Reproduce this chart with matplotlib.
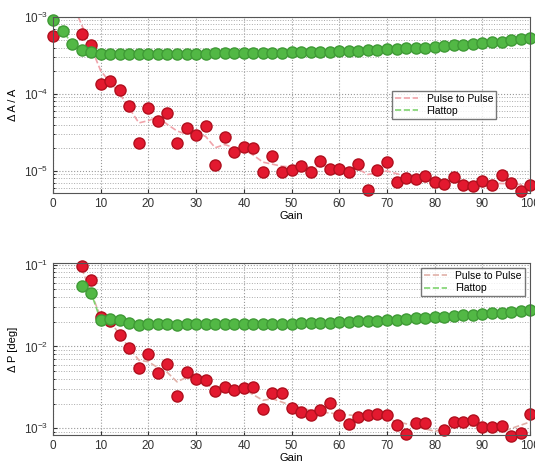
import numpy as np
import matplotlib.pyplot as plt
from matplotlib.ticker import LogLocator, NullFormatter

plt.rcParams['font.family'] = ['Liberation Sans', 'DejaVu Sans']

gain = np.arange(0, 101, 2)

# amplitude stability (top panel)
amp_p2p = [5.7e-4, np.nan, np.nan, 6.0e-4, 4.3e-4, 1.34e-4, 1.49e-4, 1.13e-4, 6.98e-5, 2.29e-5,
           6.5e-5, 4.46e-5, 5.7e-5, 2.29e-5, 3.58e-5, 2.9e-5, 3.84e-5, 1.21e-5, 2.77e-5, 1.75e-5,
           2.03e-5, 2.0e-5, 9.8e-6, 1.57e-5, 9.8e-6, 1.03e-5, 1.17e-5, 9.8e-6, 1.36e-5, 1.05e-5,
           1.05e-5, 9.8e-6, 1.23e-5, 5.66e-6, 1.03e-5, 1.32e-5, 7.26e-6, 8.03e-6, 7.8e-6, 8.7e-6,
           7.13e-6, 6.78e-6, 8.44e-6, 6.52e-6, 6.4e-6, 7.4e-6, 6.6e-6, 8.87e-6, 6.9e-6, 5.55e-6,
           6.6e-6]
amp_flat = [9.1e-4, 6.6e-4, 4.5e-4, 3.7e-4, 3.55e-4, 3.33e-4, 3.33e-4, 3.32e-4, 3.32e-4, 3.32e-4,
            3.32e-4, 3.32e-4, 3.33e-4, 3.33e-4, 3.33e-4, 3.33e-4, 3.34e-4, 3.35e-4, 3.36e-4, 3.37e-4,
            3.38e-4, 3.38e-4, 3.39e-4, 3.4e-4, 3.42e-4, 3.45e-4, 3.47e-4, 3.5e-4, 3.52e-4, 3.55e-4,
            3.6e-4, 3.62e-4, 3.65e-4, 3.7e-4, 3.75e-4, 3.84e-4, 3.85e-4, 3.9e-4, 3.95e-4, 4.0e-4,
            4.11e-4, 4.2e-4, 4.3e-4, 4.35e-4, 4.45e-4, 4.59e-4, 4.65e-4, 4.75e-4, 4.95e-4, 5.2e-4,
            5.38e-4]
amp_fit_x = [5.3, 8, 10, 12, 14, 16, 18, 20, 22, 24, 26, 28, 30, 32, 34, 36, 38, 40, 42, 44,
             48, 52, 56, 60, 64, 66, 70, 74, 80, 86, 90, 96, 100]
amp_fit = [1.0e-3, 4.0e-4, 2.0e-4, 1.4e-4, 1.0e-4, 6.5e-5, 4.2e-5, 4.5e-5, 5.0e-5, 4.0e-5,
           3.3e-5, 3.0e-5, 3.2e-5, 2.8e-5, 2.0e-5, 2.2e-5, 2.0e-5, 1.9e-5, 1.6e-5, 1.3e-5,
           1.15e-5, 1.1e-5, 1.15e-5, 1.1e-5, 1.05e-5, 9.0e-6, 1.0e-5, 8.5e-6, 7.5e-6, 7.2e-6,
           7.0e-6, 6.8e-6, 6.5e-6]

# phase stability (bottom panel)
ph_p2p = [np.nan, np.nan, np.nan, 0.097, 0.0655, 0.0229, 0.0205, 0.0139, 0.0095, 0.00553,
          0.00807, 0.00472, 0.00614, 0.00251, 0.00494, 0.00398, 0.00391, 0.00287, 0.00318, 0.0029,
          0.00315, 0.00324, 0.00173, 0.00269, 0.00269, 0.00179, 0.00157, 0.00146, 0.00168, 0.00206,
          0.00146, 0.00112, 0.00139, 0.00146, 0.00149, 0.00146, 0.0011, 0.00085, 0.00115, 0.00115,
          np.nan, 0.00096, 0.00121, 0.00118, 0.00127, 0.00103, 0.00103, 0.00107, 0.00081, 0.00087,
          0.0015]
ph_flat = [np.nan, np.nan, np.nan, 0.0542, 0.045, 0.0208, 0.0216, 0.0208, 0.0193, 0.0184,
           0.0186, 0.0186, 0.0186, 0.0182, 0.0186, 0.0186, 0.0186, 0.0186, 0.0186, 0.0186,
           0.0188, 0.0188, 0.0189, 0.0189, 0.0189, 0.019, 0.0191, 0.0192, 0.0194, 0.0196,
           0.0198, 0.02, 0.0202, 0.0205, 0.0207, 0.021, 0.0213, 0.0216, 0.022, 0.0223,
           0.0228, 0.0232, 0.0237, 0.024, 0.0245, 0.0248, 0.0253, 0.0258, 0.0264, 0.0272,
           0.0282]
ph_fit_x = [6, 8, 10, 12, 14, 16, 18, 20, 22, 24, 26, 28, 30, 34, 40, 44, 46, 50, 55, 60,
            65, 70, 75, 80, 85, 90, 95, 100]
ph_fit = [0.09, 0.045, 0.023, 0.02, 0.014, 0.0095, 0.0068, 0.0065, 0.0055, 0.0048, 0.0037,
          0.0042, 0.0038, 0.0031, 0.003, 0.0022, 0.0023, 0.0019, 0.0016, 0.0015, 0.0014,
          0.0013, 0.0011, 0.00092, 0.0011, 0.00105, 0.00095, 0.0012]

red = '#e3192f'
green = '#52b845'

fig = plt.figure(figsize=(5.35, 4.68), dpi=100)
ax1 = fig.add_axes([0.099, 0.588, 0.892, 0.376])
ax2 = fig.add_axes([0.099, 0.0705, 0.892, 0.368])


def style(ax, ylim, ylabel):
    ax.set_yscale('log')
    ax.set_xlim(0, 100)
    ax.set_ylim(*ylim)
    ax.set_xticks(np.arange(0, 101, 10))
    ax.yaxis.set_minor_locator(LogLocator(base=10, subs=np.arange(2, 10)))
    ax.yaxis.set_minor_formatter(NullFormatter())
    ax.grid(True, which='major', linestyle=':', color='#999999', linewidth=0.8)
    ax.grid(True, which='minor', axis='y', linestyle=':', color='#aaaaaa', linewidth=0.7)
    ax.tick_params(labelsize=8.5, colors='#333333', direction='in', length=3)
    ax.tick_params(which='minor', direction='in', length=1.5)
    for s in ax.spines.values():
        s.set_color('#555555')
    ax.set_xlabel('Gain', fontsize=8, labelpad=1)
    ax.set_ylabel(ylabel, fontsize=8)


# top panel
ax1.plot(amp_fit_x, amp_fit, '--', color='#f0a3aa', lw=1.2, label='Pulse to Pulse')
ax1.plot(gain, amp_flat, '--', color='#7fd36f', lw=1.2, label='Flattop')
ax1.plot(gain, amp_p2p, 'o', color=red, mec='#b0101e', ms=8, clip_on=False)
ax1.plot(gain, amp_flat, 'o', color=green, mec='#3f9a36', ms=8, clip_on=False)
style(ax1, (5.2e-6, 1.0e-3), '\u0394 A / A')
ax1.legend(loc='center left', bbox_to_anchor=(0.7, 0.5), fontsize=7.5, frameon=True,
           fancybox=False, edgecolor='#555555', handlelength=2.2, borderpad=0.3,
           labelspacing=0.2)

# bottom panel
ax2.plot(ph_fit_x, ph_fit, '--', color='#e0b0a8', lw=1.2, label='Pulse to Pulse')
ax2.plot(gain, ph_flat, '--', color='#7fd36f', lw=1.2, label='Flattop')
ax2.plot(gain, ph_p2p, 'o', color=red, mec='#b0101e', ms=8, clip_on=False)
ax2.plot(gain, ph_flat, 'o', color=green, mec='#3f9a36', ms=8, clip_on=False)
style(ax2, (8.3e-4, 0.105), '\u0394 P [deg]')
ax2.legend(loc='upper right', fontsize=7.5, frameon=True, fancybox=False,
           edgecolor='#555555', handlelength=2.2, borderpad=0.3, labelspacing=0.2)

plt.savefig('out.png', dpi=100)
